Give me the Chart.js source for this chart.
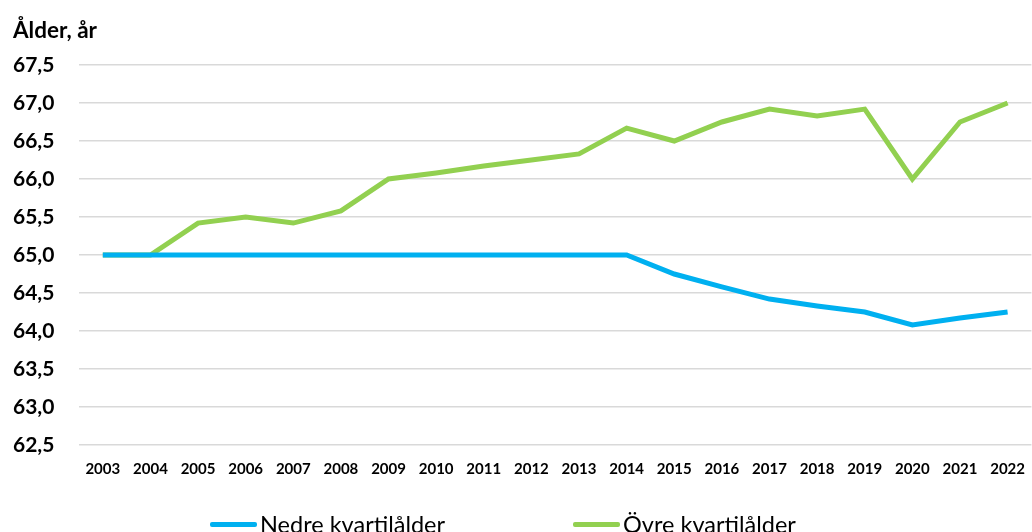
<!DOCTYPE html>
<html>
<head>
<meta charset="utf-8">
<script src="https://cdn.jsdelivr.net/npm/chart.js@4.4.1/dist/chart.umd.min.js"></script>
<style>
  body { margin: 0; overflow: hidden; background: #fff; }
  #wrap { position: relative; width: 1032px; height: 532px; }
  #legend {
    position: absolute; left: 210px; top: 511px;
    display: flex; gap: 128px;
    font-family: Lato, sans-serif; font-size: 23.5px; line-height: 26px; color: #000;
  }
  #legend .item { display: flex; align-items: center; }
  #legend .swatch { width: 47px; height: 5px; margin-right: 3px; border-radius: 2px; }
</style>
</head>
<body>
<div id="wrap">
  <canvas id="myChart"></canvas>
  <div id="legend"></div>
</div>
<script>
const years = [
  "2003", "2004", "2005", "2006", "2007", "2008", "2009", "2010", "2011", "2012",
  "2013", "2014", "2015", "2016", "2017", "2018", "2019", "2020", "2021", "2022",
];
const nedre = [
  65.0, 65.0, 65.0, 65.0, 65.0, 65.0, 65.0, 65.0, 65.0, 65.0,
  65.0, 65.0, 64.75, 64.58, 64.42, 64.33, 64.25, 64.08, 64.17, 64.25,
];
const ovre = [
  65.0, 65.0, 65.42, 65.5, 65.42, 65.58, 66.0, 66.08, 66.17, 66.25,
  66.33, 66.67, 66.5, 66.75, 66.92, 66.83, 66.92, 66.0, 66.75, 67.0,
];
const seriesNames = ["Nedre kvartilålder", "Övre kvartilålder"];
const seriesColors = ["#00b0f0", "#92d050"];
const yMin = 62.5;
const yMax = 67.5;
const yStep = 0.5;

const font = "Lato, sans-serif";

const chart = new Chart("myChart", {
  type: "line",
  data: {
    labels: years,
    datasets: [
      {
        label: seriesNames[0],
        data: nedre,
        borderColor: seriesColors[0],
        backgroundColor: seriesColors[0],
        borderWidth: 5,
        pointRadius: 0,
        tension: 0,
      },
      {
        label: seriesNames[1],
        data: ovre,
        borderColor: seriesColors[1],
        backgroundColor: seriesColors[1],
        borderWidth: 5,
        pointRadius: 0,
        tension: 0,
      },
    ],
  },
  options: {
    responsive: true,
    maintainAspectRatio: false,
    animation: false,
    layout: { padding: { left: 13, right: 0, top: 0, bottom: 47 } },
    plugins: {
      legend: { display: false },
      tooltip: { enabled: false },
      title: {
        display: true,
        text: "Ålder, år",
        align: "start",
        color: "#000",
        font: { family: font, size: 22.5, weight: "bold" },
        padding: { top: 17, bottom: 21 },
      },
    },
    scales: {
      x: {
        offset: true,
        grid: { display: false },
        border: { display: false },
        ticks: {
          color: "#000",
          font: { family: font, size: 15, weight: "bold" },
          padding: 7,
          maxRotation: 0,
          autoSkip: false,
        },
      },
      y: {
        min: yMin,
        max: yMax,
        border: { display: false },
        grid: { color: "#d9d9d9", lineWidth: 1.5, drawTicks: false },
        ticks: {
          stepSize: yStep,
          color: "#000",
          crossAlign: "far",
          font: { family: font, size: 21, weight: "bold" },
          callback: (v) => v.toFixed(1).replace(".", ","),
        },
        afterFit: (scale) => { scale.width = 66; },
      },
    },
  },
});

// legend as html below the chart
const legendEl = document.getElementById("legend");
seriesNames.forEach((name, i) => {
  const item = document.createElement("div");
  item.className = "item";
  const sw = document.createElement("span");
  sw.className = "swatch";
  sw.style.background = seriesColors[i];
  const txt = document.createElement("span");
  txt.textContent = name;
  item.appendChild(sw);
  item.appendChild(txt);
  legendEl.appendChild(item);
});
</script>
</body>
</html>
